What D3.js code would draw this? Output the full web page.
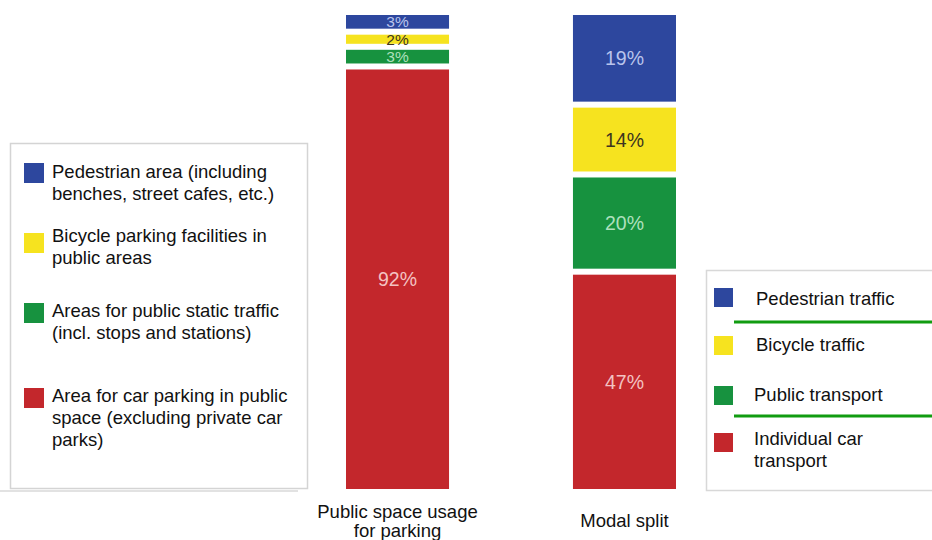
<!DOCTYPE html>
<html>
<head>
<meta charset="utf-8">
<script src="https://cdn.jsdelivr.net/npm/d3@7"></script>
<style>
  body { margin: 0; background: #fff; }
  svg { font-family: "Liberation Sans", Arial, sans-serif; }
</style>
</head>
<body>
<div id="chart"></div>
<script>
// categories (bars) and their share values, bottom segment first
var bars = ["parking", "modal"];
var barLabels = [["Public space usage", "for parking"], ["Modal split"]];
var segmentKeys = ["car", "public", "bicycle", "pedestrian"];
var parkingValues = [92, 3, 2, 3];
var modalValues = [47, 20, 14, 19];

var parkingLegend = [
    ["Pedestrian area (including", "benches, street cafes, etc.)"],
    ["Bicycle parking facilities in", "public areas"],
    ["Areas for public static traffic", "(incl. stops and stations)"],
    ["Area for car parking in public", "space (excluding private car", "parks)"]
];
var modalLegend = [
    ["Pedestrian traffic"],
    ["Bicycle traffic"],
    ["Public transport"],
    ["Individual car", "transport"]
];

function init() {
    var w = 932;
    var h = 540;

    var colors = {
        pedestrian: "#2d479e",
        bicycle: "#f6e31f",
        "public": "#17923f",
        car: "#c3272c"
    };
    var labelColors = {
        pedestrian: "#b9c4ec",
        bicycle: "#3d3520",
        "public": "#aee0bd",
        car: "#f3c2c2"
    };

    var svg = d3.select("#chart")
        .append("svg")
        .attr("width", w)
        .attr("height", h);

    // faint frames of the legend panels
    svg.append("rect")
        .attr("x", 10.5).attr("y", 143.5)
        .attr("width", 297).attr("height", 345)
        .attr("fill", "none").attr("stroke", "#d4d4d4").attr("stroke-width", 1.5);
    svg.append("rect")
        .attr("x", 706.5).attr("y", 270.5)
        .attr("width", 240).attr("height", 220)
        .attr("fill", "none").attr("stroke", "#d8d8d8").attr("stroke-width", 1.5);
    svg.append("line")
        .attr("x1", 0).attr("x2", 298).attr("y1", 491).attr("y2", 491)
        .attr("stroke", "#e2e2e2").attr("stroke-width", 2);

    // scales
    var x = d3.scaleBand()
        .domain(bars)
        .range([346, 676])
        .paddingInner(0.546)
        .paddingOuter(0);

    var gap = 6;
    var bottom = 489;
    var y = d3.scaleLinear()
        .domain([0, 100])
        .range([0, 456]);

    var table = bars.map(function (b, i) {
        var vals = i === 0 ? parkingValues : modalValues;
        var row = { bar: b };
        segmentKeys.forEach(function (k, j) { row[k] = vals[j]; });
        return row;
    });

    var series = d3.stack().keys(segmentKeys)(table);

    var layer = svg.selectAll("g.layer")
        .data(series)
        .enter()
        .append("g")
        .attr("class", "layer");

    layer.selectAll("rect")
        .data(function (s, si) {
            return s.map(function (d) { return { key: s.key, idx: si, d: d }; });
        })
        .enter()
        .append("rect")
        .attr("x", function (e) { return x(e.d.data.bar); })
        .attr("width", x.bandwidth())
        .attr("y", function (e) { return bottom - y(e.d[1]) - e.idx * gap; })
        .attr("height", function (e) { return y(e.d[1] - e.d[0]); })
        .attr("fill", function (e) { return colors[e.key]; });

    // value labels; the thin slices get a smaller font so they do not collide
    layer.selectAll("text")
        .data(function (s, si) {
            return s.map(function (d) { return { key: s.key, idx: si, d: d }; });
        })
        .enter()
        .append("text")
        .attr("x", function (e) { return x(e.d.data.bar) + x.bandwidth() / 2; })
        .attr("y", function (e) {
            return bottom - y((e.d[0] + e.d[1]) / 2) - e.idx * gap;
        })
        .attr("dy", "0.36em")
        .attr("text-anchor", "middle")
        .attr("font-size", function (e) { return (e.d[1] - e.d[0]) < 5 ? 15.5 : 19.5; })
        .attr("fill", function (e) { return labelColors[e.key]; })
        .text(function (e) { return (e.d[1] - e.d[0]) + "%"; });

    // category labels
    svg.selectAll("text.cat")
        .data(bars)
        .enter()
        .append("text")
        .attr("class", "cat")
        .attr("text-anchor", "middle")
        .attr("font-size", 18.5)
        .attr("fill", "#111")
        .attr("x", function (b) { return x(b) + x.bandwidth() / 2; })
        .attr("y", function (b, i) { return barLabels[i].length > 1 ? 518 : 527; })
        .selectAll("tspan")
        .data(function (b, i) { return barLabels[i]; })
        .enter()
        .append("tspan")
        .attr("x", function () { return d3.select(this.parentNode).attr("x"); })
        .attr("dy", function (t, j) { return j === 0 ? 0 : 19; })
        .text(function (t) { return t; });

    // left legend
    var legendOrder = ["pedestrian", "bicycle", "public", "car"];
    var leftY = [163, 233, 303, 388];
    var leftBase = [178, 242, 317, 402];
    var lg = svg.selectAll("g.lleg")
        .data(legendOrder)
        .enter()
        .append("g")
        .attr("class", "lleg");
    lg.append("rect")
        .attr("x", 24)
        .attr("y", function (k, i) { return leftY[i]; })
        .attr("width", 20).attr("height", 20)
        .attr("fill", function (k) { return colors[k]; });
    lg.append("text")
        .attr("font-size", 18.5)
        .attr("fill", "#111")
        .attr("y", function (k, i) { return leftBase[i]; })
        .selectAll("tspan")
        .data(function (k, i) { return parkingLegend[i]; })
        .enter()
        .append("tspan")
        .attr("x", 52)
        .attr("dy", function (t, j) { return j === 0 ? 0 : 22; })
        .text(function (t) { return t; });

    // right legend
    var rightY = [288, 336, 386, 433];
    var rightBase = [305, 351, 401, 445];
    var rightTx = [756, 756, 754, 754];
    var rg = svg.selectAll("g.rleg")
        .data(legendOrder)
        .enter()
        .append("g")
        .attr("class", "rleg");
    rg.append("rect")
        .attr("x", 714)
        .attr("y", function (k, i) { return rightY[i]; })
        .attr("width", 19).attr("height", 19)
        .attr("fill", function (k) { return colors[k]; });
    rg.append("text")
        .attr("font-size", 18.5)
        .attr("fill", "#111")
        .attr("y", function (k, i) { return rightBase[i]; })
        .selectAll("tspan")
        .data(function (k, i) {
            return modalLegend[i].map(function (t) { return { t: t, i: i }; });
        })
        .enter()
        .append("tspan")
        .attr("x", function (o) { return rightTx[o.i]; })
        .attr("dy", function (o, j) { return j === 0 ? 0 : 22; })
        .text(function (o) { return o.t; });

    // green separator lines in the modal split legend
    svg.selectAll("line.sep")
        .data([322, 416])
        .enter()
        .append("line")
        .attr("class", "sep")
        .attr("x1", 734).attr("x2", 932)
        .attr("y1", function (d) { return d; })
        .attr("y2", function (d) { return d; })
        .attr("stroke", "#119c11")
        .attr("stroke-width", 3);
}

window.onload = init;
</script>
</body>
</html>
